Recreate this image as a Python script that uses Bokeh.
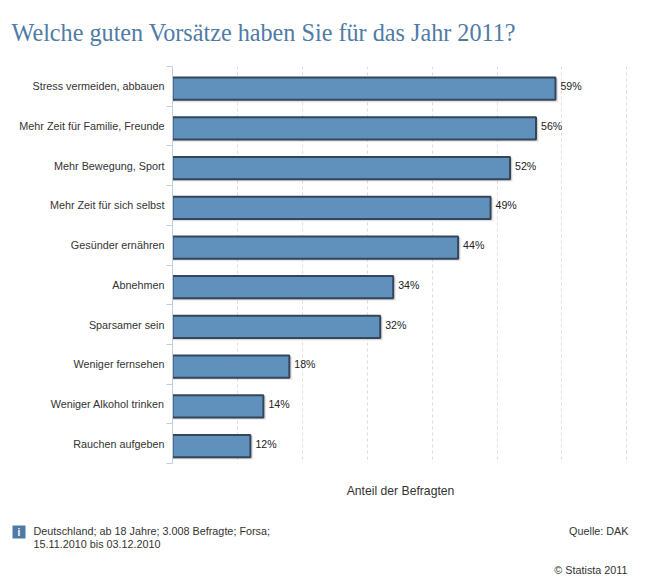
from bokeh.plotting import figure
from bokeh.layouts import column
from bokeh.models import Range1d, FixedTicker, ColumnDataSource, Dodge
from bokeh.core.properties import value
from bokeh.embed import file_html
from bokeh.resources import INLINE

categories = ["Stress vermeiden, abbauen", "Mehr Zeit für Familie, Freunde", "Mehr Bewegung, Sport",
              "Mehr Zeit für sich selbst", "Gesünder ernähren", "Abnehmen", "Sparsamer sein",
              "Weniger fernsehen", "Weniger Alkohol trinken", "Rauchen aufgeben"]
values = [59, 56, 52, 49, 44, 34, 32, 18, 14, 12]
x_ticks = [0, 10, 20, 30, 40, 50, 60, 70]
title_text = "Welche guten Vorsätze haben Sie für das Jahr 2011?"
axis_title = "Anteil der Befragten"
note_lines = ["Deutschland; ab 18 Jahre; 3.008 Befragte; Forsa;", "15.11.2010 bis 03.12.2010"]
source_text = "Quelle: DAK"
copyright_text = "© Statista 2011"

FONT = "Liberation Sans"
TEXT = "#333333"
W, H, TOP, SPLIT = 650, 577, 66, 505
LEFT, BOTTOM = 172, 463   # frame's left and bottom edge on the canvas

ys = list(range(len(categories)))
src = ColumnDataSource(dict(y=ys, v=values, lab=[f"{v}%" for v in values]))


def page_figure(y_top, y_bottom):
    """A strip of the page whose data units are the page's pixels."""
    g = figure(width=W, height=y_bottom - y_top, output_backend="svg", toolbar_location=None,
               x_range=Range1d(0, W), y_range=Range1d(y_bottom, y_top), frame_align=False,
               min_border_left=0, min_border_right=0, min_border_top=0, min_border_bottom=0)
    g.axis.visible = False
    g.grid.visible = False
    g.outline_line_color = None
    return g


# header
h = page_figure(0, TOP)
h.text(x=[11], y=[32], text=[title_text], text_align="left", text_baseline="alphabetic",
       text_font=value("Liberation Serif"), text_font_size="24.2px", text_color="#4f7ba6")

# chart
p = figure(width=W, height=SPLIT - TOP, output_backend="svg", toolbar_location=None,
           x_range=Range1d(0, 70.25), y_range=Range1d(9.5, -0.5), frame_align=False,
           min_border_left=LEFT, min_border_right=22, min_border_top=0, min_border_bottom=SPLIT - BOTTOM)
p.outline_line_color = None

p.xgrid.ticker = FixedTicker(ticks=x_ticks)
p.xgrid.grid_line_color = "#dddddd"
p.xgrid.grid_line_dash = "3 3"
p.ygrid.visible = False

xa = p.xaxis[0]
xa.ticker = FixedTicker(ticks=[])
xa.axis_line_color = None
xa.major_tick_line_color = None
xa.minor_tick_line_color = None
xa.axis_label = axis_title
xa.axis_label_text_font = FONT
xa.axis_label_text_font_size = "12.2px"
xa.axis_label_text_font_style = "normal"
xa.axis_label_text_color = TEXT
xa.axis_label_standoff = 20

ya = p.yaxis[0]
ya.ticker = FixedTicker(ticks=ys, minor_ticks=[i - 0.5 for i in range(len(categories) + 1)])
ya.major_label_overrides = dict(zip(ys, categories))
ya.major_label_text_font = FONT
ya.major_label_text_font_size = "10.8px"
ya.major_label_text_color = TEXT
ya.major_label_standoff = 2
ya.axis_line_color = "#c0d0e0"
ya.major_tick_line_color = None
ya.minor_tick_line_color = "#c0d0e0"
ya.minor_tick_out = 6
ya.minor_tick_in = 0

bar_y = Dodge(value=0.06)
shadow_y = Dodge(value=0.1)
shadow_x = Dodge(value=0.3)
p.hbar(y={"field": "y", "transform": shadow_y}, left=0, right={"field": "v", "transform": shadow_x},
       height=0.56, source=src, fill_color="#000000", fill_alpha=0.12, line_color="#000000", line_alpha=0.06, line_width=2)
p.hbar(y={"field": "y", "transform": bar_y}, left=0, right="v", height=0.56, source=src,
       fill_color="#6091bc", line_color="#35465a", line_width=2)
p.text(x="v", y="y", text="lab", source=src, x_offset=5, text_baseline="middle", text_align="left",
       text_font=value(FONT), text_font_size="10.6px", text_color="#222222")

# footer
f = page_figure(SPLIT, H)


def note(x, y, text, align="left", size="10.8px", color=TEXT, style="normal"):
    f.text(x=[x], y=[y], text=[text], text_align=align, text_baseline="middle",
           text_font=value(FONT), text_font_size=size, text_color=color, text_font_style=style)


f.quad(left=[12], right=[25], top=[525], bottom=[538], fill_color="#4f7aa5", line_color=None)
note(18.5, 531.5, "i", align="center", size="10px", color="#ffffff", style="bold")
note(33, 530, note_lines[0])
note(33, 543, note_lines[1])
note(628, 530, source_text, align="right")
note(627, 569, copyright_text, align="right")

layout = column(h, p, f, spacing=0)
open("out.html", "w").write(file_html(layout, INLINE))
